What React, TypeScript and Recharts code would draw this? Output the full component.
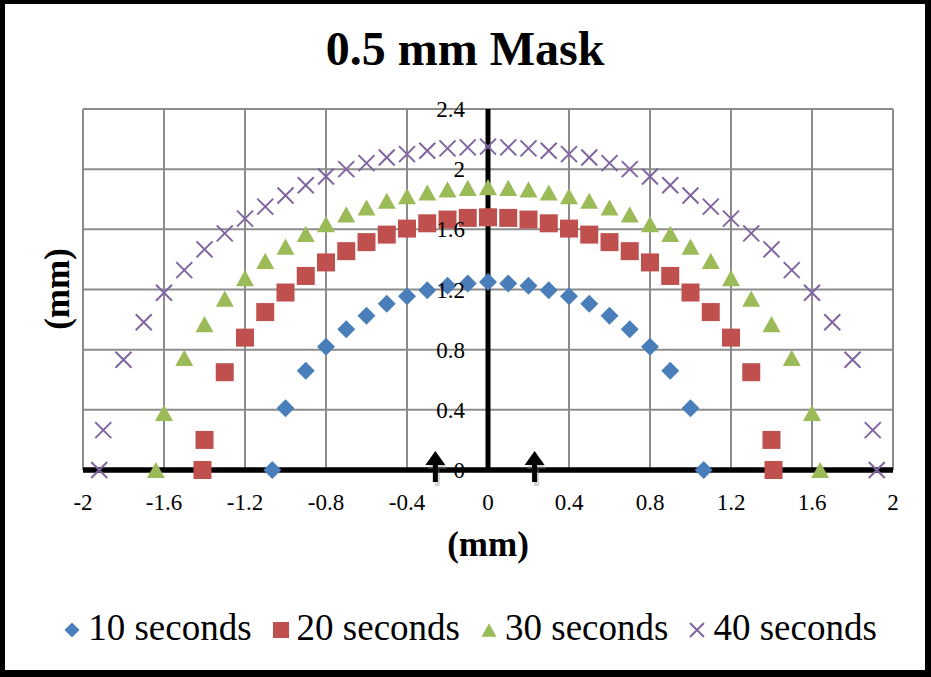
import React from "react";
import {
  ScatterChart,
  Scatter,
  XAxis,
  YAxis,
  CartesianGrid,
  ReferenceLine,
  Legend,
} from "recharts";

const W = 931;
const H = 677;
const PLOT_LEFT = 83;
const PLOT_RIGHT = 893;
const PLOT_TOP = 109;
const PLOT_BOTTOM = 470;
const X_AXIS_H = 40;
const PLOT_CX = (PLOT_LEFT + PLOT_RIGHT) / 2;

const FONT = '"Liberation Serif", "Times New Roman", serif';

const xTicks = [-2, -1.6, -1.2, -0.8, -0.4, 0, 0.4, 0.8, 1.2, 1.6, 2];
const yTicks = [0, 0.4, 0.8, 1.2, 1.6, 2, 2.4];

// 10 seconds
const x10 = [-1.065, -1, -0.9, -0.8, -0.7, -0.6, -0.5, -0.4, -0.3, -0.2, -0.1, 0, 0.1, 0.2, 0.3, 0.4, 0.5, 0.6, 0.7, 0.8, 0.9, 1, 1.065];
const y10 = [0, 0.41, 0.66, 0.82, 0.935, 1.025, 1.105, 1.155, 1.195, 1.225, 1.24, 1.25, 1.24, 1.225, 1.195, 1.155, 1.105, 1.025, 0.935, 0.82, 0.66, 0.41, 0];

// 20 seconds
const x20 = [-1.41, -1.4, -1.3, -1.2, -1.1, -1, -0.9, -0.8, -0.7, -0.6, -0.5, -0.4, -0.3, -0.2, -0.1, 0, 0.1, 0.2, 0.3, 0.4, 0.5, 0.6, 0.7, 0.8, 0.9, 1, 1.1, 1.2, 1.3, 1.4, 1.41];
const y20 = [0, 0.2, 0.65, 0.88, 1.05, 1.18, 1.29, 1.38, 1.455, 1.515, 1.565, 1.605, 1.64, 1.665, 1.676, 1.68, 1.676, 1.665, 1.64, 1.605, 1.565, 1.515, 1.455, 1.38, 1.29, 1.18, 1.05, 0.88, 0.65, 0.2, 0];

// 30 seconds
const x30 = [-1.64, -1.6, -1.5, -1.4, -1.3, -1.2, -1.1, -1, -0.9, -0.8, -0.7, -0.6, -0.5, -0.4, -0.3, -0.2, -0.1, 0, 0.1, 0.2, 0.3, 0.4, 0.5, 0.6, 0.7, 0.8, 0.9, 1, 1.1, 1.2, 1.3, 1.4, 1.5, 1.6, 1.64];
const y30 = [0, 0.38, 0.745, 0.97, 1.14, 1.275, 1.39, 1.485, 1.57, 1.635, 1.7, 1.745, 1.79, 1.82, 1.845, 1.865, 1.875, 1.88, 1.875, 1.865, 1.845, 1.82, 1.79, 1.745, 1.7, 1.635, 1.57, 1.485, 1.39, 1.275, 1.14, 0.97, 0.745, 0.38, 0];

// 40 seconds
const x40 = [-1.92, -1.9, -1.8, -1.7, -1.6, -1.5, -1.4, -1.3, -1.2, -1.1, -1, -0.9, -0.8, -0.7, -0.6, -0.5, -0.4, -0.3, -0.2, -0.1, 0, 0.1, 0.2, 0.3, 0.4, 0.5, 0.6, 0.7, 0.8, 0.9, 1, 1.1, 1.2, 1.3, 1.4, 1.5, 1.6, 1.7, 1.8, 1.9, 1.92];
const y40 = [0, 0.265, 0.733, 0.982, 1.178, 1.329, 1.467, 1.573, 1.671, 1.751, 1.825, 1.893, 1.951, 2, 2.04, 2.078, 2.1, 2.122, 2.138, 2.145, 2.15, 2.145, 2.138, 2.122, 2.1, 2.078, 2.04, 2, 1.951, 1.893, 1.825, 1.751, 1.671, 1.573, 1.467, 1.329, 1.178, 0.982, 0.733, 0.265, 0];

// mask edge arrows
const arrowX = [-0.26, 0.23];
const arrowY = [0, 0];

const zip = (xs: number[], ys: number[]) => xs.map((x, i) => ({ x, y: ys[i] }));

const BLUE = "#4a7ebb";
const RED = "#c0504d";
const GREEN = "#9bbb59";
const PURPLE = "#8064a2";

const Diamond = ({ cx, cy, r = 9, fill = BLUE }: any) => (
  <path d={`M${cx},${cy - r}L${cx + r},${cy}L${cx},${cy + r}L${cx - r},${cy}Z`} fill={fill} />
);
const Square = ({ cx, cy, r = 9, fill = RED }: any) => (
  <rect x={cx - r} y={cy - r} width={r * 2} height={r * 2} fill={fill} />
);
const Triangle = ({ cx, cy, r = 9, fill = GREEN }: any) => (
  <path d={`M${cx},${cy - r * 0.9}L${cx + r},${cy + r * 0.9}L${cx - r},${cy + r * 0.9}Z`} fill={fill} />
);
const Cross = ({ cx, cy, r = 8, stroke = PURPLE }: any) => (
  <path d={`M${cx - r},${cy - r}L${cx + r},${cy + r}M${cx - r},${cy + r}L${cx + r},${cy - r}`} stroke={stroke} strokeWidth={2} fill="none" />
);
const Arrow = ({ cx, cy }: any) => {
  const draw = (dx: number, dy: number, c: string, o: number) => (
    <g opacity={o}>
      <rect x={cx - 2.5 + dx} y={cy - 8 + dy} width={5} height={20} fill={c} />
      <path d={`M${cx + dx},${cy - 19 + dy}L${cx + 10 + dx},${cy - 5 + dy}L${cx - 10 + dx},${cy - 5 + dy}Z`} fill={c} />
    </g>
  );
  return (
    <g>
      {draw(2, 4, "#888", 0.35)}
      {draw(0, 0, "#000", 1)}
    </g>
  );
};

const legendItems = [
  { name: "10 seconds", Icon: Diamond, r: 7.5 },
  { name: "20 seconds", Icon: Square, r: 8 },
  { name: "30 seconds", Icon: Triangle, r: 7.5 },
  { name: "40 seconds", Icon: Cross, r: 7 },
];

const renderLegend = () => (
  <div style={{ display: "flex", justifyContent: "center", gap: 19, fontFamily: FONT, fontSize: 37, color: "#000" }}>
    {legendItems.map(({ name, Icon, r }) => (
      <div key={name} style={{ display: "flex", alignItems: "center" }}>
        <svg width={20} height={20} style={{ marginRight: 6, marginTop: 4 }}>
          <Icon cx={10} cy={10} r={r} />
        </svg>
        <span>{name}</span>
      </div>
    ))}
  </div>
);

const renderYTick = (props: any) => (
  <text
    key={`yt-${props.payload.value}`}
    x={PLOT_CX - 23}
    y={props.y}
    dy="0.35em"
    textAnchor="end"
    fontFamily={FONT}
    fontSize={23}
    fill="#000"
  >
    {props.payload.value}
  </text>
);

export default function App() {
  return (
    <div style={{ position: "absolute", left: 0, top: 0, width: W, height: H, background: "#fff" }}>
      <ScatterChart
        width={W}
        height={H}
        margin={{ top: PLOT_TOP, right: W - PLOT_RIGHT, bottom: H - PLOT_BOTTOM - X_AXIS_H, left: PLOT_LEFT - 1 }}
      >
        <CartesianGrid stroke="#8c8c8c" strokeWidth={2} />
        <XAxis
          type="number"
          dataKey="x"
          domain={[-2, 2]}
          ticks={xTicks}
          height={X_AXIS_H}
          tickLine={false}
          tickSize={0}
          tickMargin={24}
          axisLine={{ stroke: "#000", strokeWidth: 5 }}
          tick={{ fontFamily: FONT, fontSize: 23, fill: "#000" }}
          interval={0}
        />
        <YAxis
          type="number"
          dataKey="y"
          domain={[0, 2.4]}
          ticks={yTicks}
          width={1}
          axisLine={false}
          tickLine={false}
          tick={renderYTick}
          interval={0}
        />
        <Legend
          layout="horizontal"
          verticalAlign="middle"
          align="center"
          wrapperStyle={{ top: 606, left: 4, width: W }}
          content={renderLegend}
        />
        <Scatter name="10 seconds" data={zip(x10, y10)} shape={<Diamond />} isAnimationActive={false} />
        <Scatter name="20 seconds" data={zip(x20, y20)} shape={<Square />} isAnimationActive={false} />
        <Scatter name="30 seconds" data={zip(x30, y30)} shape={<Triangle />} isAnimationActive={false} />
        <Scatter name="40 seconds" data={zip(x40, y40)} shape={<Cross />} isAnimationActive={false} />
        <ReferenceLine x={0} stroke="#000" strokeWidth={5} />
        <ReferenceLine y={0} stroke="#000" strokeWidth={5} />
        <Scatter name="arrows" data={zip(arrowX, arrowY)} shape={<Arrow />} legendType="none" isAnimationActive={false} />
      </ScatterChart>
      <svg width={W} height={H} style={{ position: "absolute", left: 0, top: 0, pointerEvents: "none" }}>
        <text x={465} y={65} textAnchor="middle" fontFamily={FONT} fontWeight="bold" fontSize={48} fill="#000">
          0.5 mm Mask
        </text>
        <text x={488} y={556} textAnchor="middle" fontFamily={FONT} fontWeight="bold" fontSize={35} fill="#000">
          (mm)
        </text>
        <text transform="translate(69,289) rotate(-90)" textAnchor="middle" fontFamily={FONT} fontWeight="bold" fontSize={35} fill="#000">
          (mm)
        </text>
      </svg>
      <div
        style={{
          position: "absolute",
          left: 0,
          top: 0,
          width: W,
          height: H,
          boxSizing: "border-box",
          borderStyle: "solid",
          borderColor: "#000",
          borderWidth: "4px 6px 7px 5px",
          pointerEvents: "none",
        }}
      />
    </div>
  );
}
